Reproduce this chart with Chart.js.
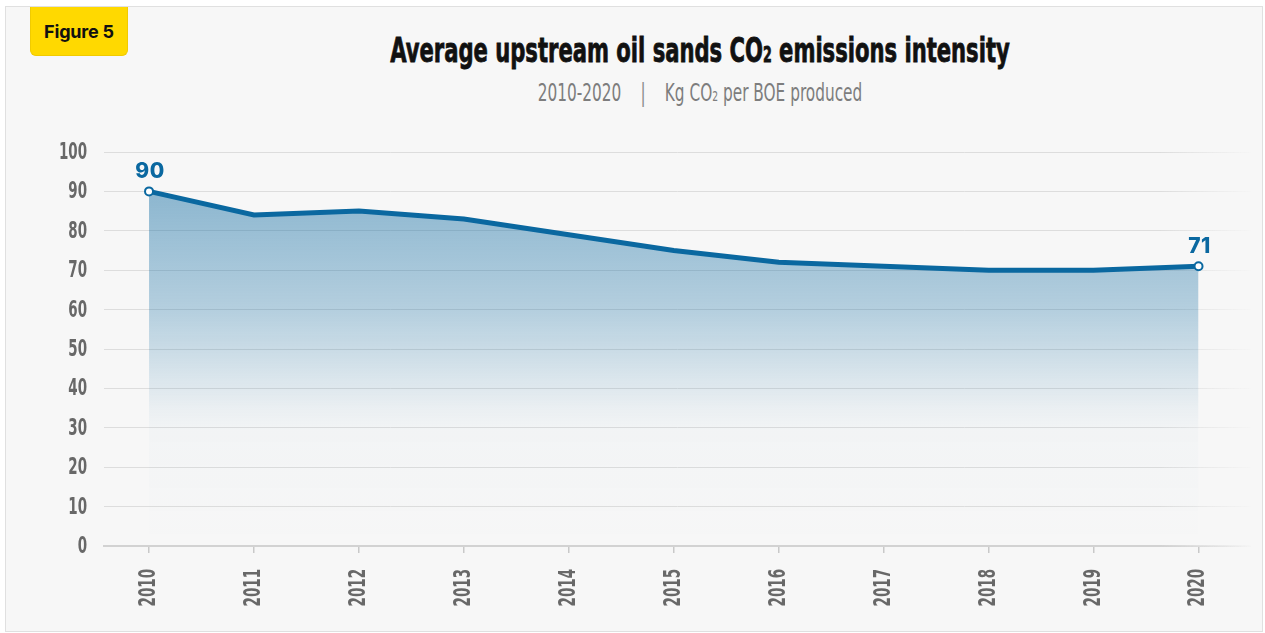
<!DOCTYPE html>
<html>
<head>
<meta charset="utf-8">
<script src="https://cdn.jsdelivr.net/npm/chart.js@4.4.1/dist/chart.umd.min.js"></script>
<style>
  html, body { margin: 0; padding: 0; background: #fff; }
  body { width: 1265px; height: 633px; position: relative; overflow: hidden; }
  .panel {
    position: absolute; left: 5px; top: 6px; width: 1256px; height: 624px;
    background: #f7f7f7; border: 1px solid #e0e0e0;
  }
  .tag {
    position: absolute; left: 30px; top: 7px; width: 98px; height: 49px;
    background: #ffd900; border-radius: 0 0 6px 6px; box-sizing: border-box;
    border: 1px solid #f1cb00; border-top: none;
    font: 700 18px Inter, "Noto Sans", sans-serif; color: #111;
    display: flex; align-items: center; justify-content: center; letter-spacing: -0.2px;
  }
  .title, .subtitle {
    position: absolute; left: 700px; white-space: nowrap; line-height: normal;
    font-family: "DejaVu Sans Condensed", "DejaVu Sans", sans-serif;
    transform-origin: 0 0;
  }
  .title {
    top: 30px; font-weight: 700; font-size: 34px; color: #111;
    -webkit-text-stroke: 0.8px #111;
    transform: scaleX(0.69) translateX(-50%);
  }
  .subtitle {
    top: 79px; font-weight: 400; font-size: 24px; color: #7d7d7d;
    transform: scaleX(0.71) translateX(-50%);
  }
  .sub2 { font-size: 0.6em; }
  .sep { margin: 0 27px; color: #8a8a8a; }
  #chart { position: absolute; left: 0; top: 0; }
</style>
</head>
<body>
<div class="panel"></div>
<div class="tag">Figure 5</div>
<div class="title">Average upstream oil sands CO<span class="sub2">2</span> emissions intensity</div>
<div class="subtitle">2010-2020<span class="sep">|</span>Kg CO<span class="sub2">2</span> per BOE produced</div>
<canvas id="chart" width="1265" height="633"></canvas>
<script>
const years = [2010, 2011, 2012, 2013, 2014, 2015, 2016, 2017, 2018, 2019, 2020];
const intensity = [90, 84, 85, 83, 79, 75, 72, 71, 70, 70, 71];
const yTicks = [0, 10, 20, 30, 40, 50, 60, 70, 80, 90, 100];

const LINE_BLUE = "#0a68a0";
const AXIS_FONT = "bold 23px 'DejaVu Sans Condensed', 'DejaVu Sans', sans-serif";
const AXIS_COLOR = "#686868";
const NARROW = 0.65; // horizontal squeeze for the condensed axis lettering

const canvas = document.getElementById("chart");
const ctx = canvas.getContext("2d");

// grid lines fade out toward the right edge
const gridFade = ctx.createLinearGradient(1160, 0, 1254, 0);
gridFade.addColorStop(0, "#dddddd");
gridFade.addColorStop(1, "rgba(221,221,221,0)");
const axisFade = ctx.createLinearGradient(1160, 0, 1254, 0);
axisFade.addColorStop(0, "#d2d2d2");
axisFade.addColorStop(1, "rgba(210,210,210,0)");

// area under the line: blue at the top, fading out lower down
const areaFill = ctx.createLinearGradient(0, 185, 0, 546);
areaFill.addColorStop(0, "rgba(10,104,160,0.46)");
areaFill.addColorStop(0.35, "rgba(10,104,160,0.28)");
areaFill.addColorStop(0.62, "rgba(10,104,160,0.05)");
areaFill.addColorStop(0.68, "rgba(10,104,160,0.02)");
areaFill.addColorStop(1, "rgba(10,104,160,0.0)");

// tick labels drawn squeezed, positioned from the scales
const narrowTicks = {
  id: "narrowTicks",
  afterDraw(chart) {
    const c = chart.ctx;
    const xs = chart.scales.x;
    const ys = chart.scales.y;
    c.save();
    c.fillStyle = AXIS_COLOR;
    c.font = AXIS_FONT;
    c.textBaseline = "middle";
    c.textAlign = "right";
    yTicks.forEach((v) => {
      c.save();
      c.translate(ys.right - 17, ys.getPixelForValue(v) + 1);
      c.scale(NARROW, 1);
      c.fillText(String(v), 0, 0);
      c.restore();
    });
    years.forEach((v) => {
      c.save();
      c.translate(xs.getPixelForValue(v), xs.top + 23);
      c.rotate(-Math.PI / 2);
      c.scale(NARROW, 1);
      c.fillText(String(v), 0, 0);
      c.restore();
    });
    c.restore();
  },
};

const endLabels = {
  id: "endLabels",
  afterDatasetsDraw(chart) {
    const meta = chart.getDatasetMeta(0);
    const last = meta.data.length - 1;
    const c = chart.ctx;
    c.save();
    c.fillStyle = LINE_BLUE;
    c.font = "800 21px Inter, 'Noto Sans', sans-serif";
    c.letterSpacing = "0.5px";
    c.textAlign = "center";
    c.textBaseline = "alphabetic";
    [0, last].forEach((i) => {
      const pt = meta.data[i];
      c.fillText(String(intensity[i]), pt.x + 1, pt.y - 13);
    });
    c.restore();
  },
};

new Chart(ctx, {
  type: "line",
  data: {
    datasets: [{
      data: years.map((y, i) => ({ x: y, y: intensity[i] })),
      borderColor: LINE_BLUE,
      borderWidth: 5,
      fill: "origin",
      backgroundColor: areaFill,
      tension: 0,
      pointRadius: (c) => (c.dataIndex === 0 || c.dataIndex === years.length - 1 ? 4 : 0),
      pointBackgroundColor: "#fff",
      pointBorderColor: LINE_BLUE,
      pointBorderWidth: 2,
    }],
  },
  options: {
    responsive: false,
    animation: false,
    layout: { padding: { top: 152, right: 14, bottom: 0, left: 0 } },
    plugins: { legend: { display: false }, tooltip: { enabled: false } },
    scales: {
      x: {
        type: "linear",
        min: 2009.571,
        max: 2020.5,
        afterBuildTicks: (scale) => { scale.ticks = years.map((v) => ({ value: v })); },
        afterFit: (scale) => { scale.height = 87; },
        grid: { drawOnChartArea: false, drawTicks: true, tickLength: 7, color: "#c9c9c9", lineWidth: 1.5 },
        border: { display: true, color: axisFade, width: 2 },
        ticks: { display: false },
      },
      y: {
        min: 0,
        max: 100,
        afterBuildTicks: (scale) => { scale.ticks = yTicks.map((v) => ({ value: v })); },
        afterFit: (scale) => { scale.width = 104; },
        grid: { drawTicks: false, color: gridFade, lineWidth: 1 },
        border: { display: false },
        ticks: { display: false },
      },
    },
  },
  plugins: [endLabels, narrowTicks],
});
</script>
</body>
</html>
